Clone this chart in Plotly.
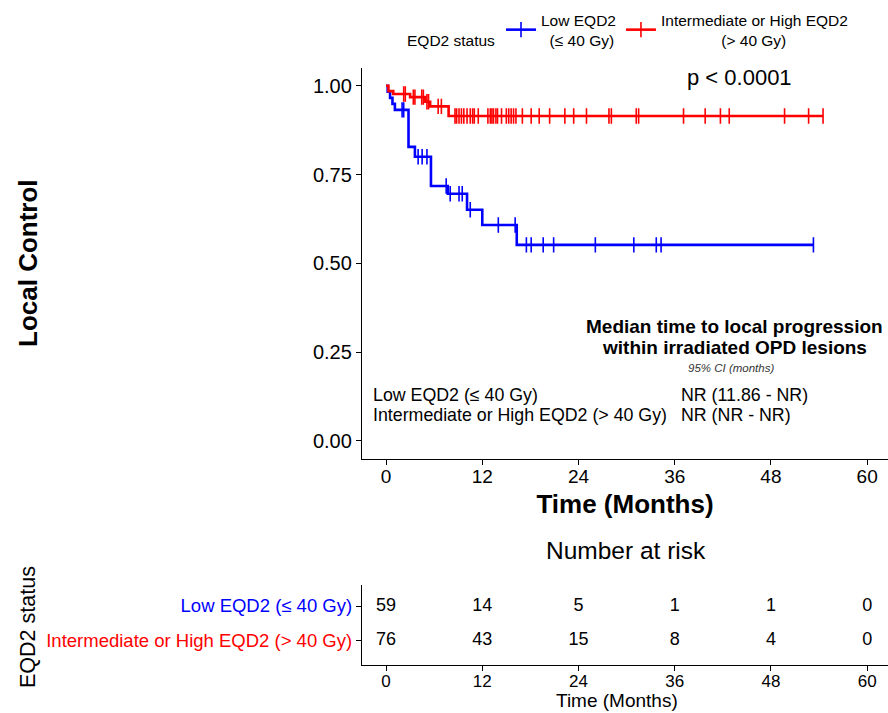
import plotly.graph_objects as go

# ---------------- data ----------------
groups = ["Low EQD2 (≤ 40 Gy)", "Intermediate or High EQD2 (> 40 Gy)"]
NB = "\u00a0"
legend_labels = ["Low EQD2<br>" + NB * 2 + "(≤ 40 Gy)",
                 "Intermediate or High EQD2<br>" + NB * 14 + "(> 40 Gy)"]
colors = ["#0000FF", "#FF0000"]

low_times = [0, 0.2, 0.5, 0.8, 1.1, 2.8, 3.6, 5.6, 7.7, 10.1, 12.0, 16.3, 53.3]
low_surv = [1.0, 0.983, 0.966, 0.949, 0.932, 0.828, 0.800, 0.718, 0.696, 0.651, 0.608, 0.552, 0.552]
low_censor = [2.0, 2.2, 4.0, 4.5, 5.1, 7.5, 8.0, 9.1, 9.5, 10.5, 14.0, 16.1, 17.5, 18.1,
              19.6, 20.9, 26.1, 30.9, 33.7, 34.3, 53.3]

high_times = [0, 0.3, 0.9, 3.0, 4.9, 5.5, 7.8, 54.5]
high_surv = [1.0, 0.985, 0.977, 0.968, 0.955, 0.942, 0.915, 0.915]
high_censor = [2.2, 2.4, 3.4, 3.6, 4.45, 4.65, 5.1, 5.3, 6.5, 6.9, 8.6, 8.8, 9.1, 9.4, 9.7,
               10.1, 10.5, 10.8, 11.0, 11.5, 12.7, 13.0, 13.2, 13.4, 13.7, 13.9, 14.4, 15.0,
               15.3, 15.6, 15.9, 16.2, 17.0, 18.1, 19.1, 20.4, 22.3, 23.4, 25.0, 27.8, 28.1,
               31.2, 31.5, 37.1, 39.8, 41.7, 42.8, 49.7, 52.7, 54.5]

risk_times = [0, 12, 24, 36, 48, 60]
low_risk = [59, 14, 5, 1, 1, 0]
high_risk = [76, 43, 15, 8, 4, 0]

y_ticks = [0.0, 0.25, 0.5, 0.75, 1.0]
y_ticklabels = ["0.00", "0.25", "0.50", "0.75", "1.00"]

median_rows = ["NR (11.86 - NR)", "NR (NR - NR)"]

FONT = "Liberation Sans, Arial, Helvetica, sans-serif"


def surv_at(times, surv, t):
    s = surv[0]
    for ti, si in zip(times, surv):
        if ti <= t:
            s = si
    return s


fig = go.Figure()

series = [(low_times, low_surv, low_censor), (high_times, high_surv, high_censor)]
for i, (tt, ss, cc) in enumerate(series):
    fig.add_trace(go.Scatter(
        x=tt, y=ss, mode="lines", line=dict(color=colors[i], width=2.6, shape="hv"),
        showlegend=False, xaxis="x", yaxis="y", hoverinfo="skip"))
    fig.add_trace(go.Scatter(
        x=cc, y=[surv_at(tt, ss, c) for c in cc], mode="markers",
        marker=dict(symbol="line-ns", size=11, line=dict(color=colors[i], width=1.6)),
        showlegend=False, xaxis="x", yaxis="y", hoverinfo="skip"))
    # legend entry (line + cross)
    fig.add_trace(go.Scatter(
        x=[None], y=[None], mode="lines+markers", name=legend_labels[i],
        line=dict(color=colors[i], width=2.6),
        marker=dict(symbol="line-ns", size=11, line=dict(color=colors[i], width=1.6)),
        xaxis="x", yaxis="y"))

# risk table
for i, vals in enumerate([low_risk, high_risk]):
    fig.add_trace(go.Scatter(
        x=risk_times, y=[2 - i] * len(risk_times), mode="text",
        text=[str(v) for v in vals], textposition="middle center",
        textfont=dict(family=FONT, size=18, color="black"),
        showlegend=False, xaxis="x2", yaxis="y2", hoverinfo="skip"))

W, H = 888, 713
def py(px):
    return 1 - px / H
def pxx(px):
    return px / W

axis_common = dict(showline=True, linecolor="black", linewidth=1.3, ticks="outside",
                   ticklen=5, tickcolor="black", showgrid=False, zeroline=False)

fig.update_layout(
    width=W, height=H, plot_bgcolor="white", paper_bgcolor="white",
    margin=dict(l=0, r=0, t=0, b=0),
    font=dict(family=FONT, color="black"),
    xaxis=dict(domain=[pxx(362), 1.0], range=[-3, 62.6], tickvals=risk_times,
               tickfont=dict(size=19, color="black"), ticklabelstandoff=-5,
               title=dict(text="<b>Time (Months)</b>", font=dict(size=26), standoff=9),
               anchor="y", **axis_common),
    yaxis=dict(domain=[py(458.75), py(68)], range=[-0.05, 1.05], tickvals=y_ticks,
               ticktext=y_ticklabels, tickfont=dict(size=20, color="black"),
               anchor="x", **axis_common),
    xaxis2=dict(domain=[pxx(362), 1.0], range=[-3, 62.6], tickvals=risk_times,
                tickfont=dict(size=17, color="black"), ticklabelstandoff=-5,
                anchor="y2", **axis_common),
    yaxis2=dict(domain=[py(665), py(585)], range=[0.314, 2.6], tickvals=[2, 1],
                ticktext=[f"<span style='color:{colors[0]}'>{groups[0]}</span>",
                          f"<span style='color:{colors[1]}'>{groups[1]}</span>"],
                tickfont=dict(size=18.5), anchor="x2", **axis_common),
    legend=dict(orientation="h", x=pxx(501), y=py(30), xanchor="left", yanchor="middle",
                font=dict(size=15.5), itemwidth=30, tracegroupgap=0,
                bgcolor="rgba(0,0,0,0)"),
)

ann = []
ann.append(dict(text="EQD2 status", x=pxx(497), y=py(30), xanchor="right",
                font=dict(size=15.5), showarrow=False, xref="paper", yref="paper"))
ann.append(dict(text="<b>Local Control</b>", x=pxx(28), y=py(263), textangle=-90,
                xanchor="center", yanchor="middle", font=dict(size=26),
                showarrow=False, xref="paper", yref="paper"))
ann.append(dict(text="p < 0.0001", x=pxx(739), y=py(78), xanchor="center", yanchor="middle",
                font=dict(size=22), showarrow=False, xref="paper", yref="paper"))
ann.append(dict(text="<b>Median time to local progression</b>", x=pxx(885), y=py(327),
                xanchor="right", yanchor="middle", font=dict(size=19),
                showarrow=False, xref="paper", yref="paper"))
ann.append(dict(text="<b>within irradiated OPD lesions</b>", x=pxx(734), y=py(347),
                xanchor="center", yanchor="middle", font=dict(size=19),
                showarrow=False, xref="paper", yref="paper"))
ann.append(dict(text="<i>95% CI (months)</i>", x=pxx(731), y=py(368), xanchor="center",
                yanchor="middle", font=dict(size=11.5, color="#333333"),
                showarrow=False, xref="paper", yref="paper"))
for i in range(2):
    ann.append(dict(text=groups[i], x=pxx(371), y=py(395 + 20 * i), xanchor="left",
                    yanchor="middle", font=dict(size=17.8), showarrow=False,
                    xref="paper", yref="paper"))
    ann.append(dict(text=median_rows[i], x=pxx(679), y=py(395 + 20 * i), xanchor="left",
                    yanchor="middle", font=dict(size=17.8), showarrow=False,
                    xref="paper", yref="paper"))
ann.append(dict(text="Number at risk", x=pxx(626), y=py(550), xanchor="center",
                yanchor="middle", font=dict(size=24.5), showarrow=False,
                xref="paper", yref="paper"))
ann.append(dict(text="EQD2 status", x=pxx(28), y=py(627), textangle=-90, xanchor="center",
                yanchor="middle", font=dict(size=21.5), showarrow=False,
                xref="paper", yref="paper"))
ann.append(dict(text="Time (Months)", x=pxx(617), y=py(700), xanchor="center",
                yanchor="middle", font=dict(size=19), showarrow=False,
                xref="paper", yref="paper"))
fig.update_layout(annotations=ann)

fig.write_html("out.html", post_script="document.body.style.margin='0';",
               config={"displayModeBar": False})
